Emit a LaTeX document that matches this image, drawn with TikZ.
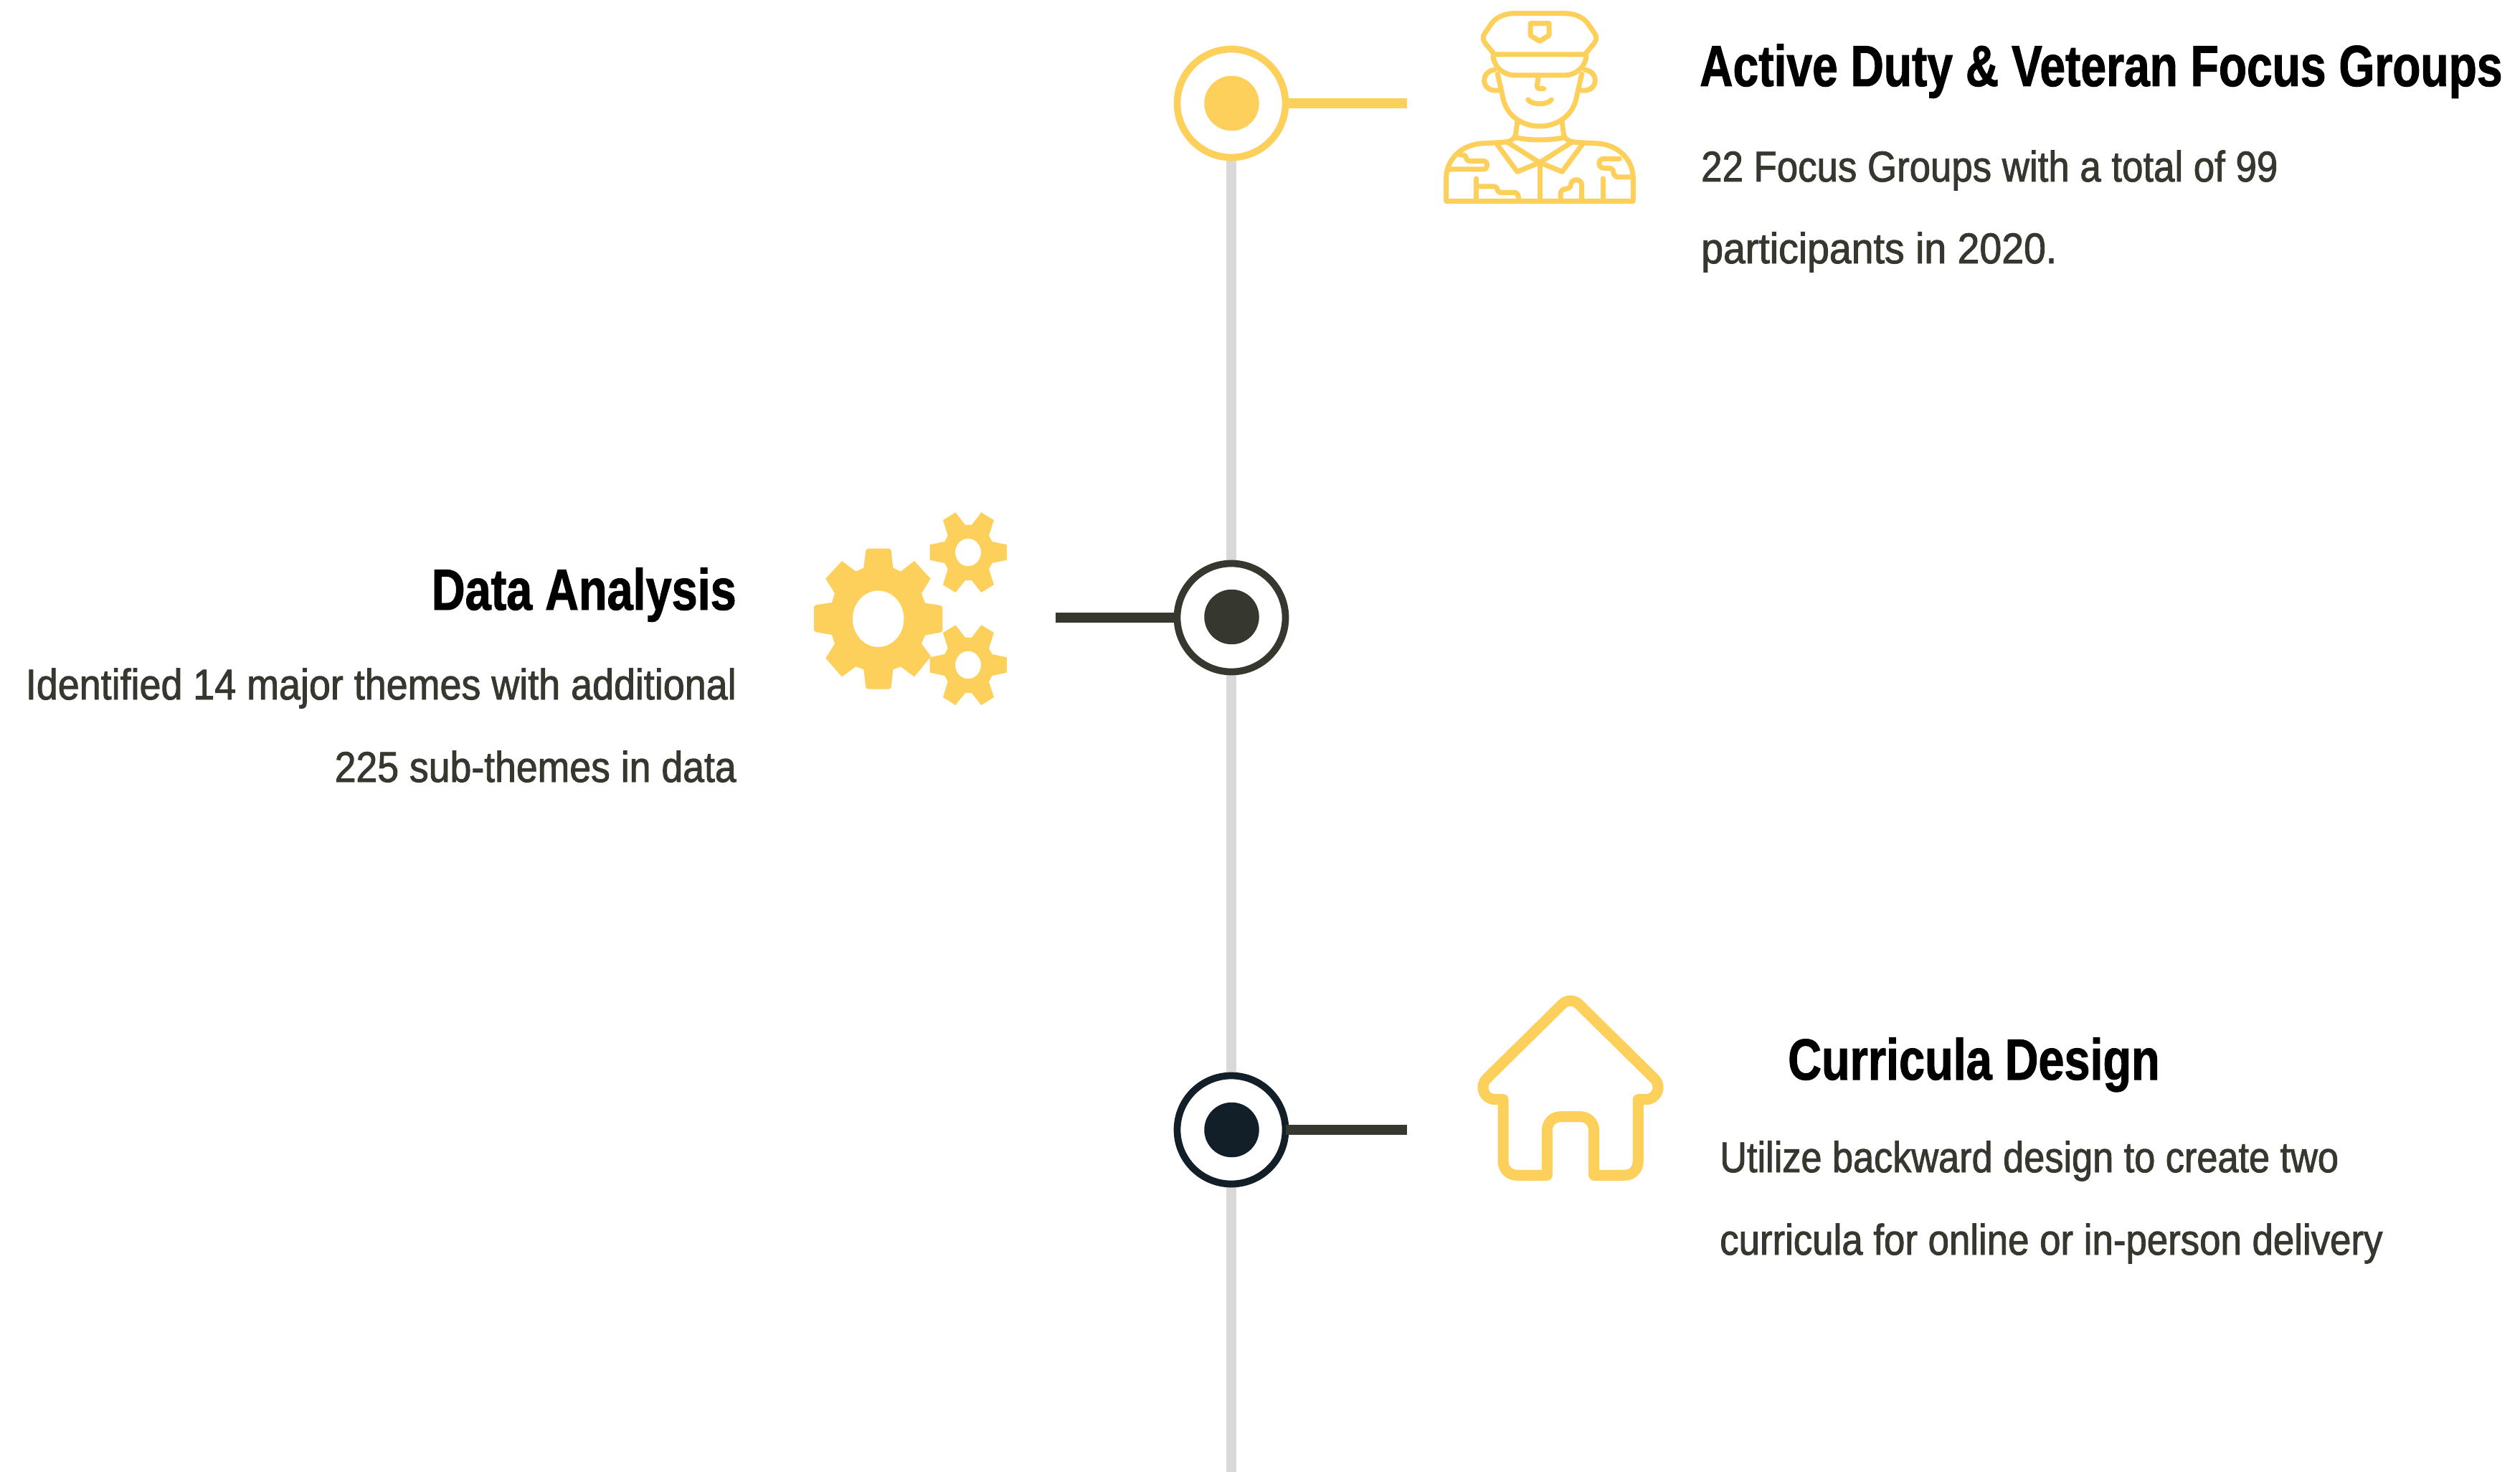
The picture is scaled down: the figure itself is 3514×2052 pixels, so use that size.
\documentclass[tikz,border=0pt]{standalone}
\usepackage{fontspec}
\setmainfont{Liberation Sans}
\newfontfamily\headfont[FakeStretch=0.80,FakeBold=1.2]{Liberation Sans Bold}
\newfontfamily\bodyfont[FakeStretch=0.88,FakeBold=1.5]{Liberation Sans}
\definecolor{gold}{HTML}{FDD05C}
\definecolor{track}{HTML}{D9D9D9}
\definecolor{olive}{HTML}{363830}
\definecolor{navy}{HTML}{131F28}
\tikzset{
  x=1pt,y=-1pt,
  ring/.style={circle,draw=#1,fill=white,line width=9.7pt,minimum size=151pt,inner sep=0pt},
  dot/.style={circle,fill=#1,minimum size=76.5pt,inner sep=0pt},
  stem/.style={draw=#1,line width=13.4pt},
  iconline/.style={draw=gold,line width=7pt,line cap=round,line join=round},
  houseline/.style={draw=gold,line width=15pt,line cap=round,line join=round},
  headtext/.style={inner sep=0pt,text=black,font=\headfont\fontsize{81}{81}\selectfont},
  bodytext/.style={inner sep=0pt,text=olive,font=\bodyfont\fontsize{60}{60}\selectfont},
}
\begin{document}
\begin{tikzpicture}
\useasboundingbox (0,0) rectangle (3514,2052);
\coordinate (trackend) at (1717,2052);
\coordinate (stemA) at (1962,144);
\coordinate (stemB) at (1472,861);
\coordinate (stemC) at (1962,1575);
\coordinate (stemCstart) at (1793,1575);
\coordinate (trackstart) at (1717,144);
\draw[draw=track,line width=13.7pt] (trackstart) -- (trackend);
\node[ring=gold] (ringA) at (1717,144) {};
\draw[stem=gold] (ringA.east) -- (stemA);
\node[dot=gold] (dotA) at (1717.5,144) {};
\node[ring=olive] (ringB) at (1717,861) {};
\draw[stem=olive] (stemB) -- (ringB.west);
\node[dot=olive] (dotB) at (1717.5,860) {};
\node[ring=navy] (ringC) at (1717,1575) {};
\draw[stem=olive] (stemCstart) -- (stemC);
\node[dot=navy] (dotC) at (1717.5,1575) {};
% soldier
\begin{scope}[shift={(1960,0)},x=0.3333pt,y=-0.3333pt,iconline]
\draw (372,228) -- (334,182) .. controls (322,168) and (322,152) .. (332,138) -- (362,95) .. controls (385,68) and (420,56) .. (455,56) -- (667,56) .. controls (702,56) and (737,68) .. (760,95) -- (790,138) .. controls (800,152) and (800,168) .. (788,182) -- (750,228) -- cycle;
\draw (366,232) .. controls (368,280) and (410,315) .. (460,315) -- (662,315) .. controls (712,315) and (754,280) .. (756,232);
\draw (522,98) -- (600,98) -- (600,148) -- (561,172) -- (522,148) -- cycle;
\draw (372,292) .. controls (310,300) and (315,385) .. (385,378);
\draw (750,292) .. controls (812,300) and (807,385) .. (737,378);
\draw (385,310) -- (408,412) .. controls (425,490) and (495,528) .. (561,528) .. controls (627,528) and (697,490) .. (714,412) -- (737,310);
\draw (555,325) -- (550,358) .. controls (549,366) and (553,371) .. (560,371) -- (578,371);
\draw (512,417) .. controls (530,440) and (592,440) .. (610,417);
\draw (468,505) -- (461,560) .. controls (458,582) and (435,594) .. (410,595) -- (320,600) .. controls (230,605) and (170,670) .. (170,745) -- (170,841) -- (952,841) -- (952,745) .. controls (952,670) and (892,605) .. (802,600) -- (712,595) .. controls (687,594) and (664,582) .. (661,560) -- (654,505);
\draw (462,576) .. controls (525,588) and (597,588) .. (660,576);
\draw (382,603) -- (467,718) -- (561,680) -- (655,718) -- (740,603);
\draw (422,592) -- (561,680) -- (700,592);
\draw (561,690) -- (561,841);
\draw (228,648) -- (238,648) .. controls (250,648) and (255,658) .. (255,665) .. controls (256,670) and (262,673) .. (268,673) -- (325,673) .. controls (347,673) and (347,708) .. (325,708) -- (185,708);
\draw (296,747) -- (296,841);
\draw (296,780) -- (370,780) .. controls (380,780) and (385,790) .. (385,795) .. controls (386,802) and (392,805) .. (398,805) -- (455,805) .. controls (465,805) and (472,815) .. (472,825) -- (472,841);
\draw (895,664) -- (830,664) .. controls (803,664) and (803,703) .. (830,703) -- (850,703) .. controls (862,703) and (870,712) .. (870,722) .. controls (871,733) and (880,741) .. (890,741) -- (950,741);
\draw (825,747) -- (825,841);
\draw (648,841) -- (648,810) .. controls (648,798) and (660,790) .. (670,790) .. controls (682,790) and (691,782) .. (691,772) .. controls (695,745) and (737,745) .. (737,775) -- (737,841);
\end{scope}
% gears
\begin{scope}[shift={(1100,690)},x=0.3333pt,y=-0.3333pt]
\fill[gold,even odd rule] (322,232) -- (330,224) -- (420,224) -- (428,232) -- (436,305) -- (468,320) -- (525,276) -- (593,350) -- (555,412) -- (570,452) -- (635,462) -- (643,470) -- (643,568) -- (635,575) -- (570,587) -- (555,622) -- (595,675) -- (525,760) -- (468,718) -- (436,730) -- (428,805) -- (420,812) -- (330,812) -- (322,805) -- (313,730) -- (280,718) -- (222,760) -- (154,683) -- (192,622) -- (180,585) -- (112,573) -- (105,565) -- (105,468) -- (112,460) -- (180,450) -- (192,412) -- (154,350) -- (222,276) -- (280,320) -- (313,305) -- cycle (374,518) ellipse [x radius=107.5,y radius=118];
\foreach \gy in {0,471}{
\begin{scope}[yshift=-\gy*0.3333pt]
\fill[gold,even odd rule] (590,208) -- (652,195) -- (665,170) -- (645,105) -- (697,73) -- (738,125) -- (765,125) -- (805,73) -- (858,105) -- (837,170) -- (850,195) -- (912,208) -- (912,272) -- (850,285) -- (837,310) -- (858,375) -- (805,408) -- (765,357) -- (738,357) -- (697,408) -- (645,375) -- (665,310) -- (652,285) -- (590,272) -- cycle (750,240) ellipse [x radius=54,y radius=58];
\end{scope}}
\end{scope}
% house
\begin{scope}[shift={(2030,1360)},x=0.3333pt,y=-0.3333pt,houseline]
\draw (382,835) -- (382,650) .. controls (382,615) and (405,590) .. (440,590) -- (520,590) .. controls (555,590) and (578,615) .. (578,650) -- (578,835) -- (705,835) .. controls (740,835) and (763,810) .. (763,775) -- (763,518) -- (795,518) .. controls (840,518) and (865,465) .. (830,430) -- (515,120) .. controls (495,100) and (465,100) .. (445,120) -- (130,430) .. controls (95,465) and (120,518) .. (165,518) -- (198,518) -- (198,775) .. controls (198,810) and (222,835) .. (258,835) -- cycle;
\end{scope}
% text
\node[headtext,anchor=base west] (titleA) at (2370,120) {\scalebox{0.99}[1]{Active Duty \& Veteran Focus Groups}};
\node[bodytext,anchor=base west] (lineAa) at (2372,253) {22 Focus Groups with a total of 99};
\node[bodytext,anchor=base west] (lineAb) at (2372,367) {\scalebox{1.05}[1]{participants in 2020.}};
\node[headtext,anchor=base east] (titleB) at (1027,850) {\scalebox{1.0}[1]{Data Analysis}};
\node[bodytext,anchor=base east] (lineBa) at (1027,975) {\scalebox{1.02}[1]{Identified 14 major themes with additional}};
\node[bodytext,anchor=base east] (lineBb) at (1027,1090) {\scalebox{1.015}[1]{225 sub-themes in data}};
\node[headtext,anchor=base west] (titleC) at (2493,1505) {Curricula Design};
\node[bodytext,anchor=base west] (lineCa) at (2398,1634) {\scalebox{0.99}[1]{Utilize backward design to create two}};
\node[bodytext,anchor=base west] (lineCb) at (2398,1749) {curricula for online or in-person delivery};
\end{tikzpicture}
\end{document}
